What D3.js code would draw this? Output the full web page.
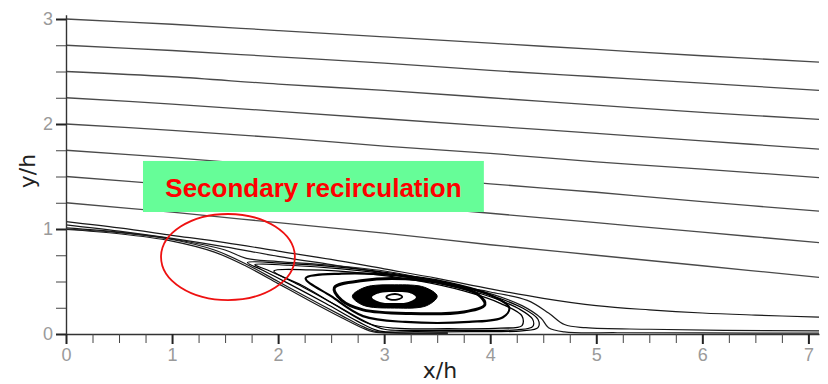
<!DOCTYPE html>
<html>
<head>
<meta charset="utf-8">
<script src="https://cdn.jsdelivr.net/npm/d3@7"></script>
<style>
  body { margin: 0; background: #fff; }
  .tick text { font-family: "Liberation Sans", Arial, sans-serif; font-size: 18px; fill: #9a9a9a; }
  .domain { stroke: #333; stroke-width: 1.4px; }
</style>
</head>
<body>
<svg class="flowchart" width="828" height="384"></svg>
<script>
var svg = d3.select(".flowchart"),
    width = +svg.attr("width"),
    height = +svg.attr("height");

// tick values
var xMajor = [0, 1, 2, 3, 4, 5, 6, 7];
var yMajor = [0, 1, 2, 3];
var xMinor = [0.25, 0.5, 0.75, 1.25, 1.5, 1.75, 2.25, 2.5, 2.75, 3.25, 3.5, 3.75,
              4.25, 4.5, 4.75, 5.25, 5.5, 5.75, 6.25, 6.5, 6.75];
var yMinor = [0.25, 0.5, 0.75, 1.25, 1.5, 1.75, 2.25, 2.5, 2.75];

// outer streamlines (x/h, y/h)
var farStreams = [
  [[0,3.0],[1,2.95],[2,2.89],[3,2.83],[4,2.77],[5,2.71],[6,2.65],[7.1,2.59]],
  [[0,2.75],[1,2.70],[2,2.64],[3,2.58],[4,2.51],[5,2.45],[6,2.39],[7.1,2.32]],
  [[0,2.5],[1,2.45],[2,2.38],[3,2.32],[4,2.25],[5,2.18],[6,2.11],[7.1,2.045]],
  [[0,2.25],[1,2.19],[2,2.12],[3,2.05],[4,1.98],[5,1.91],[6,1.84],[7.1,1.76]],
  [[0,2.0],[1,1.94],[2,1.87],[3,1.79],[4,1.72],[5,1.64],[6,1.57],[7.1,1.49]],
  [[0,1.75],[1,1.68],[2,1.60],[3,1.52],[4,1.43],[5,1.35],[6,1.26],[7.1,1.17]],
  [[0,1.5],[1,1.42],[2,1.33],[3,1.24],[4,1.15],[5,1.06],[6,0.97],[7.1,0.87]],
  [[0,1.25],[1,1.16],[2,1.06],[3,0.96],[4,0.85],[5,0.75],[6,0.65],[7.1,0.54]]
];

// streamlines passing over the bubble and along the wall
var nearStreams = [
  [[0,1.07],[0.5,1.01],[1,0.94],[1.5,0.87],[2,0.79],[2.5,0.71],[3,0.62],[3.5,0.53],[4,0.43],[4.5,0.34],[5,0.27],[5.5,0.23],[6,0.2],[6.5,0.18],[7.1,0.16]],
  [[0,1.04],[0.5,0.98],[1,0.91],[1.5,0.83],[2,0.74],[2.5,0.66],[3,0.58],[3.5,0.49],[4,0.4],[4.35,0.32],[4.55,0.2],[4.7,0.09],[4.9,0.06],[5.5,0.045],[6.2,0.035],[7.1,0.03]],
  [[0,1.01],[0.5,0.97],[1,0.905],[1.5,0.8],[1.7,0.72],[2,0.69],[2.5,0.655],[3,0.6],[3.5,0.505],[4,0.385],[4.3,0.27],[4.48,0.15],[4.55,0.06],[4.7,0.02],[5.2,0.012],[6,0.01],[7.1,0.008]],
  [[0,1.0],[0.5,0.965],[1,0.9],[1.4,0.8],[1.7,0.665],[2,0.5],[2.3,0.335],[2.6,0.175],[2.8,0.07],[2.92,0.025],[3.1,0.012],[3.6,0.01]],
  [[0,0.995],[0.5,0.955],[1,0.885],[1.4,0.78],[1.7,0.645],[2,0.48],[2.3,0.315],[2.6,0.155],[2.8,0.055],[2.9,0.02],[3.1,0.008],[3.6,0.006]]
];

// closed loops of the main recirculation bubble, outer to inner
var bubbleLoops = [
  [[1.71,0.68],[2.1,0.67],[2.6,0.635],[3.1,0.575],[3.6,0.48],[4,0.37],[4.3,0.25],[4.45,0.14],[4.45,0.06],[4.3,0.03],[3.8,0.022],[3.3,0.022],[2.95,0.03],[2.75,0.12],[2.45,0.29],[2.1,0.48],[1.85,0.61]],
  [[1.78,0.66],[2.1,0.655],[2.6,0.62],[3.1,0.56],[3.6,0.465],[4,0.355],[4.27,0.24],[4.4,0.14],[4.4,0.07],[4.25,0.04],[3.8,0.035],[3.3,0.035],[3,0.045],[2.8,0.13],[2.5,0.3],[2.15,0.49],[1.9,0.61]],
  [[1.96,0.6],[2.3,0.61],[2.8,0.58],[3.3,0.51],[3.75,0.41],[4.1,0.29],[4.3,0.17],[4.3,0.08],[4.1,0.055],[3.6,0.05],[3.1,0.055],[2.85,0.1],[2.55,0.27],[2.25,0.45]],
  [[2.26,0.53],[2.6,0.575],[3.1,0.56],[3.6,0.49],[3.98,0.38],[4.18,0.25],[4.12,0.16],[3.8,0.115],[3.2,0.115],[2.8,0.17],[2.5,0.36]],
  [[2.53,0.44],[2.8,0.51],[3.2,0.525],[3.6,0.47],[3.88,0.38],[3.95,0.28],[3.75,0.21],[3.25,0.195],[2.8,0.23],[2.6,0.32]]
];
var loopWidths = [1.2, 1.2, 1.3, 2.2, 3];

// dense black core ring of the vortex: outer edge, inner hole, centre loop
var coreOuter = [[2.7,0.36],[2.82,0.445],[3.1,0.468],[3.38,0.445],[3.5,0.36],[3.4,0.27],[3.1,0.247],[2.8,0.275]];
var coreHole = [[2.885,0.35],[2.96,0.39],[3.1,0.4],[3.24,0.39],[3.3,0.35],[3.23,0.305],[3.1,0.295],[2.96,0.305]];
var coreCentre = [[3.02,0.352],[3.07,0.377],[3.13,0.377],[3.17,0.352],[3.12,0.328],[3.06,0.328]];

// annotation (data units)
var noteBox = {x0: 0.726, x1: 3.94, y0: 1.162, y1: 1.648, label: "Secondary recirculation"};
var noteRing = {cx: 1.527, cy: 0.733, rx: 0.631, ry: 0.41};

var x = d3.scaleLinear().domain([0, 7.1]).range([66, 819]);
var y = d3.scaleLinear().domain([0, 3.04]).range([334, 14.8]);

var line = d3.line()
    .x(function(d) { return x(d[0]); })
    .y(function(d) { return y(d[1]); })
    .curve(d3.curveCatmullRom);

var loop = d3.line()
    .x(function(d) { return x(d[0]); })
    .y(function(d) { return y(d[1]); })
    .curve(d3.curveCatmullRomClosed);

svg.append("g")
  .selectAll("path")
  .data(farStreams)
  .enter().append("path")
  .attr("d", line)
  .style("fill", "none")
  .style("stroke", "#4a4a4a")
  .style("stroke-width", 1.3);

svg.append("g")
  .selectAll("path")
  .data(nearStreams)
  .enter().append("path")
  .attr("d", line)
  .style("fill", "none")
  .style("stroke", "#1a1a1a")
  .style("stroke-width", 1.2);

svg.append("g")
  .selectAll("path")
  .data(bubbleLoops)
  .enter().append("path")
  .attr("d", loop)
  .style("fill", "none")
  .style("stroke", "#000")
  .style("stroke-width", function(d, i) { return loopWidths[i]; });

var core = svg.append("g");
core.append("path").attr("d", loop(coreOuter))
  .style("fill", "#000").style("stroke", "#000").style("stroke-width", 1);
core.append("path").attr("d", loop(coreHole))
  .style("fill", "#fff").style("stroke", "none");
core.append("path").attr("d", loop(coreCentre))
  .style("fill", "none").style("stroke", "#000").style("stroke-width", 1.8);

// axes
var xAxis = svg.append("g")
  .attr("transform", "translate(0," + y(0) + ")")
  .call(d3.axisBottom(x).tickValues(xMajor).tickSize(10).tickSizeOuter(0).tickPadding(4).tickFormat(d3.format("d")));
xAxis.selectAll(".tick line").style("stroke", "#222").style("stroke-width", 2);

svg.append("g")
  .attr("transform", "translate(0," + y(0) + ")")
  .call(d3.axisBottom(x).tickValues(xMinor).tickSize(9).tickSizeOuter(0).tickFormat(""))
  .call(function(g) { g.select(".domain").remove(); })
  .selectAll(".tick line").style("stroke", "#444").style("stroke-width", 1);

var yAxis = svg.append("g")
  .attr("transform", "translate(" + x(0) + ",0)")
  .call(d3.axisLeft(y).tickValues(yMajor).tickSize(10).tickSizeOuter(0).tickPadding(3).tickFormat(d3.format("d")));
yAxis.selectAll(".tick line").style("stroke", "#222").style("stroke-width", 2);

svg.append("g")
  .attr("transform", "translate(" + x(0) + ",0)")
  .call(d3.axisLeft(y).tickValues(yMinor).tickSize(10).tickSizeOuter(0).tickFormat(""))
  .call(function(g) { g.select(".domain").remove(); })
  .selectAll(".tick line").style("stroke", "#444").style("stroke-width", 1);

svg.append("text")
  .attr("x", 440)
  .attr("y", 378)
  .attr("text-anchor", "middle")
  .style("font-family", "DejaVu Sans, sans-serif")
  .style("font-size", "22px")
  .style("fill", "#222")
  .text("x/h");

svg.append("text")
  .attr("transform", "translate(35,171) rotate(-90)")
  .attr("text-anchor", "middle")
  .style("font-family", "DejaVu Sans, sans-serif")
  .style("font-size", "22px")
  .style("fill", "#222")
  .text("y/h");

// annotation
svg.append("rect")
  .attr("x", x(noteBox.x0))
  .attr("y", y(noteBox.y1))
  .attr("width", x(noteBox.x1) - x(noteBox.x0))
  .attr("height", y(noteBox.y0) - y(noteBox.y1))
  .style("fill", "#66fd98");

svg.append("text")
  .attr("x", (x(noteBox.x0) + x(noteBox.x1)) / 2)
  .attr("y", y(noteBox.y0) - 15)
  .attr("text-anchor", "middle")
  .style("font-family", "Liberation Sans, Arial, sans-serif")
  .style("font-weight", "bold")
  .style("font-size", "26px")
  .style("fill", "#ff0000")
  .text(noteBox.label);

svg.append("ellipse")
  .attr("cx", x(noteRing.cx))
  .attr("cy", y(noteRing.cy))
  .attr("rx", x(noteRing.rx) - x(0))
  .attr("ry", y(0) - y(noteRing.ry))
  .style("fill", "none")
  .style("stroke", "#ee1111")
  .style("stroke-width", 1.8);
</script>
</body>
</html>
